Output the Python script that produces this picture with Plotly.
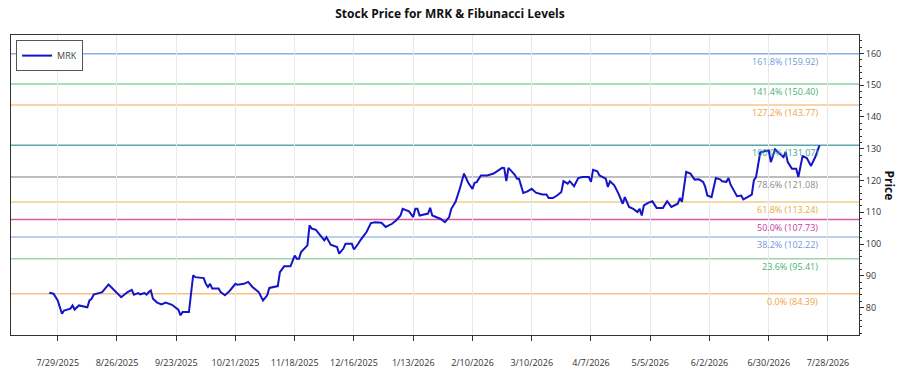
import plotly.graph_objects as go

dates = [
"2025-07-25","2025-07-27","2025-07-29","2025-07-31","2025-08-01","2025-08-04","2025-08-05","2025-08-06","2025-08-08","2025-08-10",
"2025-08-12","2025-08-13","2025-08-14","2025-08-15","2025-08-17","2025-08-19","2025-08-22","2025-08-24","2025-08-26","2025-08-28",
"2025-08-30","2025-08-31","2025-09-02","2025-09-03","2025-09-05","2025-09-06","2025-09-08","2025-09-09","2025-09-10","2025-09-11",
"2025-09-12","2025-09-14","2025-09-16","2025-09-18","2025-09-21","2025-09-23","2025-09-24","2025-09-25","2025-09-26","2025-09-29",
"2025-10-01","2025-10-02","2025-10-06","2025-10-07","2025-10-08","2025-10-09","2025-10-10","2025-10-13","2025-10-14","2025-10-16",
"2025-10-18","2025-10-21","2025-10-22","2025-10-25","2025-10-27","2025-10-29","2025-11-01","2025-11-03","2025-11-05","2025-11-06",
"2025-11-08","2025-11-10","2025-11-11","2025-11-13","2025-11-16","2025-11-18","2025-11-19","2025-11-20","2025-11-21","2025-11-24",
"2025-11-25","2025-11-26","2025-11-28","2025-12-01","2025-12-02","2025-12-03","2025-12-05","2025-12-08","2025-12-09","2025-12-11",
"2025-12-12","2025-12-15","2025-12-16","2025-12-18","2025-12-19","2025-12-22","2025-12-24","2025-12-26","2025-12-29","2025-12-31",
"2026-01-03","2026-01-05","2026-01-07","2026-01-08","2026-01-11","2026-01-13","2026-01-14","2026-01-15","2026-01-16","2026-01-20",
"2026-01-21","2026-01-22","2026-01-26","2026-01-28","2026-01-30","2026-01-31","2026-02-02","2026-02-04","2026-02-06","2026-02-08",
"2026-02-10","2026-02-11","2026-02-12","2026-02-14","2026-02-17","2026-02-20","2026-02-24","2026-02-25","2026-02-26","2026-02-27",
"2026-03-02","2026-03-03","2026-03-04","2026-03-06","2026-03-08","2026-03-10","2026-03-12","2026-03-15","2026-03-17","2026-03-18",
"2026-03-20","2026-03-22","2026-03-24","2026-03-25","2026-03-27","2026-03-28","2026-03-29","2026-03-30","2026-04-01","2026-04-03",
"2026-04-06","2026-04-07","2026-04-08","2026-04-10","2026-04-11","2026-04-14","2026-04-15","2026-04-16","2026-04-18","2026-04-20",
"2026-04-22","2026-04-23","2026-04-25","2026-04-27","2026-04-29","2026-04-30","2026-05-01","2026-05-02","2026-05-04","2026-05-06",
"2026-05-08","2026-05-11","2026-05-13","2026-05-15","2026-05-18","2026-05-19","2026-05-20","2026-05-22","2026-05-24","2026-05-26",
"2026-05-28","2026-05-30","2026-05-31","2026-06-01","2026-06-03","2026-06-05","2026-06-07","2026-06-08","2026-06-10","2026-06-11",
"2026-06-12","2026-06-15","2026-06-17","2026-06-18","2026-06-20","2026-06-22","2026-06-23","2026-06-24","2026-06-26","2026-06-28",
"2026-06-30","2026-07-01","2026-07-03","2026-07-05","2026-07-07","2026-07-08","2026-07-09","2026-07-11","2026-07-13","2026-07-14",
"2026-07-16","2026-07-18","2026-07-20","2026-07-22","2026-07-23","2026-07-24"]

prices = [
84.7,84.4,82.3,78.1,79.1,79.7,80.7,79.4,80.7,80.4,
80.1,82.3,82.8,84.1,84.4,84.9,87.3,86.0,84.9,83.3,
84.4,84.9,85.6,84.1,84.6,84.2,84.6,84.1,84.9,85.4,
82.8,81.6,81.0,81.6,80.9,79.9,79.4,77.6,78.6,78.6,
90.2,89.6,89.3,87.5,86.5,87.5,86.0,86.0,84.9,83.9,
85.1,87.5,87.2,87.5,88.1,86.5,84.9,82.3,83.9,86.2,
86.5,86.8,91.2,93.0,93.0,96.4,95.4,95.4,97.5,99.6,
105.9,104.9,104.5,102.2,101.2,102.2,99.8,99.1,97.0,98.6,
100.1,100.1,98.3,100.1,101.2,103.9,106.6,106.9,106.7,105.4,
106.4,107.5,109.0,111.1,110.3,108.5,111.1,111.1,109.0,109.6,
111.4,109.0,107.9,106.9,108.5,111.1,113.3,117.4,122.2,119.3,
117.4,119.3,119.5,121.6,121.6,122.2,124.0,123.9,119.8,124.0,
121.8,120.6,120.6,116.1,116.6,117.4,116.2,115.6,115.6,114.5,
114.5,115.3,116.4,119.8,119.0,119.8,119.0,118.2,120.8,121.1,
121.1,119.6,123.4,122.9,121.6,120.6,118.0,119.8,118.5,115.9,
112.7,114.8,111.7,111.1,110.1,111.1,109.0,112.2,113.0,113.5,
111.4,111.4,113.5,111.7,112.7,114.5,113.3,122.7,122.2,120.3,
120.4,119.6,118.0,115.3,114.8,120.8,120.4,119.8,119.6,120.8,
118.7,115.1,115.3,114.1,114.8,115.6,120.1,121.1,128.9,129.2,
129.5,125.8,129.8,128.5,127.4,129.0,125.8,123.7,123.7,121.1,
127.7,127.1,124.6,127.4,129.5,131.07]

fib_pcts = ["161.8%", "141.4%", "127.2%", "100.0%", "78.6%", "61.8%", "50.0%", "38.2%", "23.6%", "0.0%"]
fib_levels = [159.92, 150.40, 143.77, 131.07, 121.08, 113.24, 107.73, 102.22, 95.41, 84.39]
fib_line_colors = ["#8aaee3", "#8fd1a9", "#f6c590", "#5aa8a8", "#a8a8a8", "#efcf86", "#d65aa6", "#a4bfea", "#9fd3b0", "#f5c182"]
fib_text_colors = ["#6f98d8", "#47b273", "#f1a245", "#3f9f9f", "#8a8a8a", "#e2ac3c", "#cc3a98", "#6f98d8", "#47b273", "#f1a245"]

tick_vals = ["2025-07-29", "2025-08-26", "2025-09-23", "2025-10-21", "2025-11-18", "2025-12-16", "2026-01-13",
             "2026-02-10", "2026-03-10", "2026-04-07", "2026-05-05", "2026-06-02", "2026-06-30", "2026-07-28"]
tick_text = ["7/29/2025", "8/26/2025", "9/23/2025", "10/21/2025", "11/18/2025", "12/16/2025", "1/13/2026",
             "2/10/2026", "3/10/2026", "4/7/2026", "5/5/2026", "6/2/2026", "6/30/2026", "7/28/2026"]

FONT = "Open Sans"

fig = go.Figure()
fig.add_trace(go.Scatter(x=dates, y=prices, mode="lines", name="MRK",
                         line=dict(color="#1414c8", width=2)))

for pct, lvl, lc, tc in zip(fib_pcts, fib_levels, fib_line_colors, fib_text_colors):
    fig.add_shape(type="line", xref="paper", x0=0, x1=1, yref="y", y0=lvl, y1=lvl,
                  line=dict(color=lc, width=1.5), layer="below")
    fig.add_annotation(xref="paper", x=0.954, yref="y", y=lvl, xanchor="right", yanchor="top",
                       text=f"{pct} ({lvl:.2f})", showarrow=False, yshift=1,
                       font=dict(family=FONT, size=9, color=tc))

fig.add_annotation(xref="paper", yref="paper", x=1.036, y=0.5, xanchor="center", yanchor="middle",
                   text="<b>Price</b>", textangle=90, showarrow=False,
                   font=dict(family=FONT, size=12, color="#111111"))

fig.update_layout(
    width=900, height=375,
    margin=dict(l=11, r=41, t=35, b=40),
    paper_bgcolor="white", plot_bgcolor="white",
    font=dict(family=FONT, size=9, color="#333333"),
    title=dict(text="<b>Stock Price for MRK & Fibunacci Levels</b>", x=0.5, xanchor="center",
               y=1 - 14 / 375, yanchor="middle", yref="container",
               font=dict(family=FONT, size=12, color="#111111")),
    showlegend=True,
    legend=dict(x=0.006, y=0.983, xanchor="left", yanchor="top", bgcolor="white", itemwidth=30,
                bordercolor="#555555", borderwidth=1, font=dict(family=FONT, size=9, color="#444444")),
    xaxis=dict(type="date", range=["2025-07-06 22:00", "2026-08-11 16:00"], automargin=False,
               tickvals=tick_vals, ticktext=tick_text, ticks="outside", ticklen=5, tickcolor="#333333",
               ticklabelstandoff=14,
               showgrid=True, gridcolor="#e8e8e8", gridwidth=1,
               showline=True, linecolor="#333333", linewidth=1, mirror=True, zeroline=False,
               tickfont=dict(family=FONT, size=9, color="#333333")),
    yaxis=dict(side="right", range=[71.4, 165.8], dtick=10, tick0=0, ticks="outside", ticklen=4,
               automargin=False,
               tickcolor="#333333", showgrid=False,
               minor=dict(dtick=2, ticks="outside", ticklen=2, tickcolor="#333333"),
               showline=True, linecolor="#333333", linewidth=1, mirror=True, zeroline=False,
               tickfont=dict(family=FONT, size=9, color="#333333")),
)

fig.write_html("out.html")
